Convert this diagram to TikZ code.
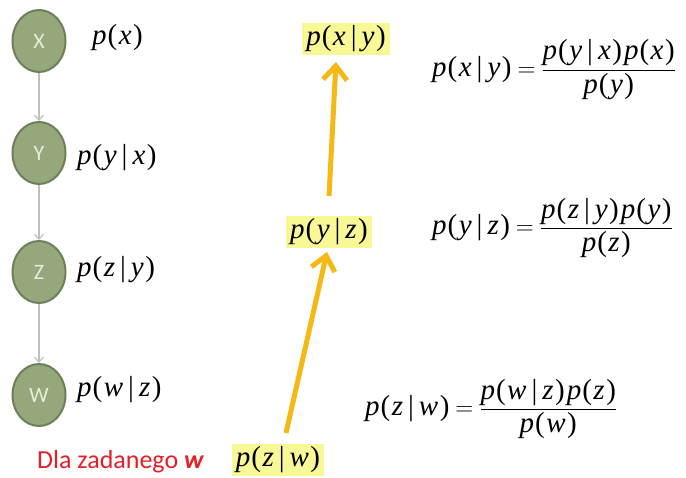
\documentclass[tikz,border=0pt]{standalone}
\usepackage{fontspec}
\setmainfont{Liberation Serif}
\newfontfamily\calib{Carlito}
\usetikzlibrary{shapes.geometric,arrows.meta}
\definecolor{nodefill}{RGB}{148,168,124}
\definecolor{nodeline}{RGB}{108,128,90}
\definecolor{nodetext}{RGB}{228,238,216}
\definecolor{hl}{RGB}{248,248,150}
\definecolor{orarrow}{RGB}{246,184,20}
\definecolor{redtxt}{RGB}{230,30,40}
\newcommand{\vv}[1]{\textit{#1}}
\newcommand{\pr}[1]{\vv{p}\kern1pt(\kern1.5pt#1\kern1.5pt)}
\newcommand{\cnd}[2]{\vv{p}\kern1pt(\kern1.5pt\vv{#1}\kern5pt|\kern5pt\vv{#2}\kern1.5pt)}
\newcommand{\myfrac}[2]{$\displaystyle\frac{\hbox{#1}}{\hbox{#2}}$}
\tikzset{
  var/.style={ellipse, fill=nodefill, draw=nodeline, line width=2pt, minimum width=53pt, minimum height=62pt, inner sep=0pt, text=nodetext, font=\calib\fontsize{22}{22}\selectfont},
  garrow/.style={draw=gray!50, line width=1.2pt, -{Straight Barb[length=5pt,width=9pt]}},
  lbl/.style={anchor=west, inner sep=0pt, font=\fontsize{29}{29}\selectfont},
  hlbox/.style={fill=hl, inner xsep=4pt, inner ysep=3pt, font=\fontsize{29}{29}\selectfont},
  oarrow/.style={draw=orarrow, line width=5pt, -{Straight Barb[length=14pt,width=24pt,line width=5pt]}},
  eq/.style={anchor=west, inner sep=0pt, font=\fontsize{29}{29}\selectfont}
}
\begin{document}
\begin{tikzpicture}[x=1pt,y=-1pt]
\useasboundingbox (0,0) rectangle (686,477);
% chain
\node[var] (X) at (39,41) {X};
\node[var] (Y) at (39,153) {Y};
\node[var] (Z) at (39,272) {Z};
\node[var] (W) at (39,395) {W};
\draw[garrow] (X) -- (Y);
\draw[garrow] (Y) -- (Z);
\draw[garrow] (Z) -- (W);
\node[lbl] (lx) at (92,38) {\pr{\vv{x}}};
\node[lbl] (ly) at (77,158) {\cnd{y}{x}};
\node[lbl] (lz) at (77,270) {\cnd{z}{y}};
\node[lbl] (lw) at (77,390) {\cnd{w}{z}};
% highlighted chain
\node[hlbox] (hxy) at (346,39) {\cnd{x}{y}};
\node[hlbox] (hyz) at (329,232) {\cnd{y}{z}};
\node[hlbox] (hzw) at (278,460) {\cnd{z}{w}};
\coordinate (a1s) at (329,196);
\coordinate (a1e) at (336,62);
\coordinate (a2s) at (286,433);
\coordinate (a2e) at (327,252);
\draw[oarrow] (a1s) -- (a1e);
\draw[oarrow] (a2s) -- (a2e);
% equations
\node[eq] (e1) at (432,70) {\cnd{x}{y}\kern6pt$=$\kern6pt\myfrac{\cnd{y}{x}\kern2pt\pr{\vv{x}}}{\pr{\vv{y}}}};
\node[eq] (e2) at (432,228) {\cnd{y}{z}\kern6pt$=$\kern6pt\myfrac{\cnd{z}{y}\kern2pt\pr{\vv{y}}}{\pr{\vv{z}}}};
\node[eq] (e3) at (365,409) {\cnd{z}{w}\kern6pt$=$\kern6pt\myfrac{\cnd{w}{z}\kern2pt\pr{\vv{z}}}{\pr{\vv{w}}}};
% caption
\node[anchor=west, inner sep=0pt, text=redtxt, font=\calib\fontsize{26}{26}\selectfont] (cap) at (37,462) {Dla zadanego \textbf{\textit{w}}};
\end{tikzpicture}
\end{document}
